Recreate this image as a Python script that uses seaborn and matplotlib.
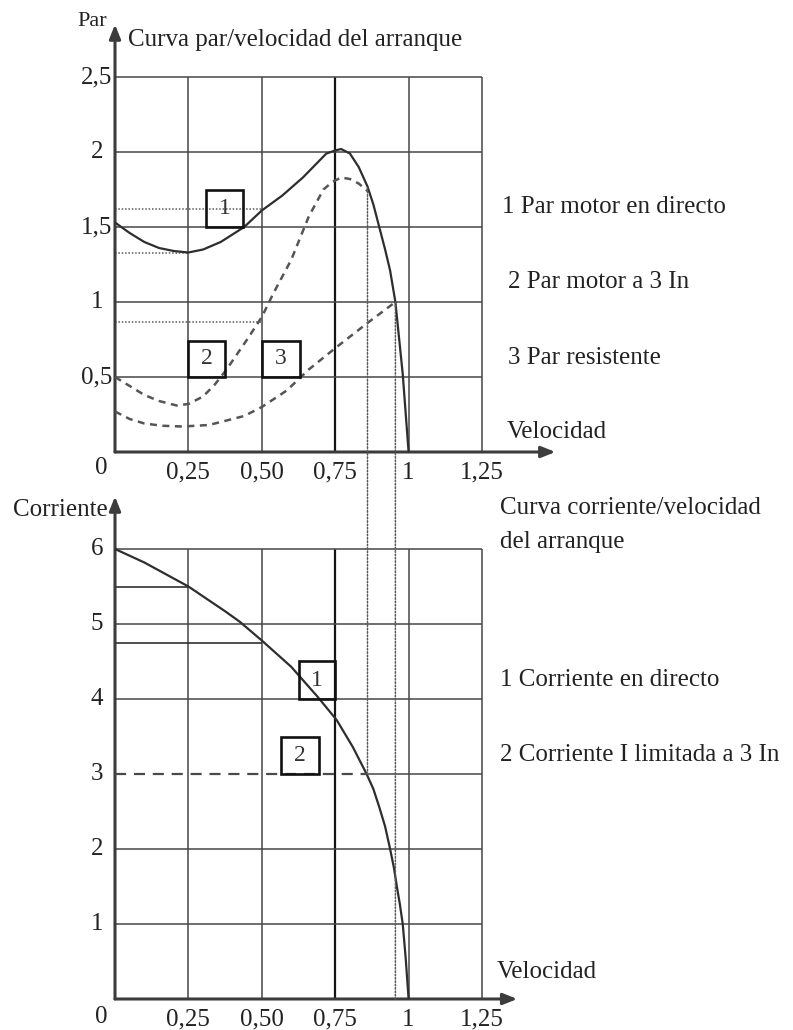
import matplotlib
matplotlib.use("Agg")
import matplotlib.pyplot as plt
from matplotlib.patches import Rectangle, ConnectionPatch
import seaborn as sns

# ---- Par / velocidad (per-unit speed) ----
par_directo_v = [0.0, 0.05, 0.1, 0.15, 0.2, 0.25, 0.3, 0.36, 0.44, 0.5, 0.57, 0.64,
                 0.69, 0.72, 0.75, 0.77, 0.8, 0.83, 0.86, 0.88, 0.9, 0.92, 0.937,
                 0.955, 0.98, 1.0]
par_directo = [1.53, 1.46, 1.4, 1.36, 1.34, 1.33, 1.35, 1.4, 1.5, 1.61, 1.71, 1.83,
               1.93, 1.99, 2.01, 2.02, 1.99, 1.9, 1.77, 1.65, 1.5, 1.35, 1.21,
               1.0, 0.52, 0.0]

par_3in_v = [0.0, 0.05, 0.1, 0.15, 0.21, 0.25, 0.3, 0.34, 0.38, 0.45, 0.5, 0.54,
             0.6, 0.66, 0.71, 0.74, 0.77, 0.8, 0.83, 0.86]
par_3in = [0.5, 0.44, 0.38, 0.34, 0.31, 0.32, 0.37, 0.45, 0.55, 0.75, 0.9, 1.06,
           1.28, 1.57, 1.75, 1.8, 1.83, 1.82, 1.79, 1.74]

par_resist_v = [0.0, 0.05, 0.1, 0.16, 0.23, 0.32, 0.38, 0.44, 0.5, 0.585, 0.66,
                0.755, 0.86, 0.955]
par_resist = [0.27, 0.22, 0.19, 0.175, 0.17, 0.18, 0.21, 0.24, 0.3, 0.41, 0.55,
              0.7, 0.86, 1.0]

# ---- Corriente / velocidad ----
corr_directo_v = [0.0, 0.1, 0.25, 0.375, 0.425, 0.5, 0.6, 0.69, 0.755, 0.81, 0.857,
                  0.88, 0.9, 0.92, 0.937, 0.95, 0.96, 0.97, 0.98, 0.99, 1.0]
corr_directo = [6.0, 5.82, 5.5, 5.17, 5.03, 4.78, 4.43, 4.03, 3.72, 3.36, 3.0,
                2.8, 2.56, 2.3, 2.0, 1.75, 1.5, 1.27, 1.0, 0.55, 0.0]

corr_limit_v = [0.0, 0.857]
corr_limit = [3.0, 3.0]

# ---- Axis ticks ----
vel_ticks = [0.25, 0.5, 0.75, 1.0, 1.25]
vel_labels = ["0,25", "0,50", "0,75", "1", "1,25"]
par_ticks = [0.5, 1.0, 1.5, 2.0, 2.5]
par_labels = ["0,5", "1", "1,5", "2", "2,5"]
corr_ticks = [1, 2, 3, 4, 5, 6]
corr_labels = ["1", "2", "3", "4", "5", "6"]

# ---- Reading guides: level and speed reached ----
par_guides_level = [1.62, 1.33, 0.87]
par_guides_reach = [0.5, 0.25, 0.5]
corr_guides_level = [5.5, 4.75]
corr_guides_reach = [0.25, 0.5]

# ---- Speed drop lines joining both charts ----
link_speed = [0.86, 0.955]
link_par = [1.76, 1.0]
link_corr = [3.0, 0.0]

sns.set_theme(style="white")
plt.rcParams["font.family"] = ["Liberation Serif", "DejaVu Serif"]
plt.rcParams["text.color"] = "#222222"

W, H = 793, 1030
fig = plt.figure(figsize=(W / 100, H / 100), dpi=100)
fig.patch.set_facecolor("white")


def fx(x):
    return x / W


def fy(y):
    return 1 - y / H


X0 = 115          # pixel column of the speed origin
PXU = 293.6       # pixels per unit of speed
ax_top = fig.add_axes([fx(X0), fy(452), 1.5 * PXU / W, 2.85 * 150 / H])
ax_bot = fig.add_axes([fx(X0), fy(999), 1.5 * PXU / W, 6.7 * 75 / H])
ax_top.set_xlim(0, 1.5)
ax_top.set_ylim(0, 2.85)
ax_bot.set_xlim(0, 1.5)
ax_bot.set_ylim(0, 6.7)

GRID = "#474747"
for ax in (ax_top, ax_bot):
    for s in ax.spines.values():
        s.set_visible(False)
    ax.set_facecolor("none")

# grid of the torque chart
for v in vel_ticks:
    bold = v == 0.75
    ax_top.vlines(v, 0, 2.5, color="#151515" if bold else GRID,
                  lw=1.6 if bold else 1.1, zorder=1)
for p in par_ticks:
    ax_top.hlines(p, 0, 1.25, color=GRID, lw=1.1, zorder=1)

# grid of the current chart
for v in vel_ticks:
    bold = v == 0.75
    ax_bot.vlines(v, 0, 6, color="#151515" if bold else GRID,
                  lw=1.6 if bold else 1.1, zorder=1)
for c in corr_ticks:
    start = corr_limit_v[-1] if c == 3 else 0
    ax_bot.hlines(c, start, 1.25, color=GRID, lw=1.1, zorder=1)
ax_bot.hlines(corr_guides_level, 0, corr_guides_reach, color="#303030", lw=1.2, zorder=1)

# dotted reading guides on the torque chart
ax_top.hlines(par_guides_level, 0, par_guides_reach, color="#5a5a5a", lw=1.1,
              linestyles=[(0, (1, 1.2))], zorder=1)

# axes drawn as arrows
arrow_kw = dict(arrowstyle="-|>,head_length=0.7,head_width=0.28", color="#3c3c3c",
                lw=2.2, shrinkA=0, shrinkB=0)
ax_top.annotate("", xy=(1.5, 0), xytext=(0, 0), arrowprops=arrow_kw, annotation_clip=False)
ax_top.annotate("", xy=(0, 2.85), xytext=(0, 0), arrowprops=arrow_kw, annotation_clip=False)
ax_bot.annotate("", xy=(1.37, 0), xytext=(0, 0), arrowprops=arrow_kw, annotation_clip=False)
ax_bot.annotate("", xy=(0, 6.7), xytext=(0, 0), arrowprops=arrow_kw, annotation_clip=False)

# curves
sns.lineplot(x=par_directo_v, y=par_directo, ax=ax_top, color="#2e2e2e", lw=1.6,
             estimator=None, sort=False, zorder=3)
sns.lineplot(x=par_3in_v, y=par_3in, ax=ax_top, color="#555555", lw=1.8,
             linestyle=(0, (2.8, 2.2)), estimator=None, sort=False, zorder=3)
sns.lineplot(x=par_resist_v, y=par_resist, ax=ax_top, color="#555555", lw=1.8,
             linestyle=(0, (2.8, 2.2)), estimator=None, sort=False, zorder=3)
sns.lineplot(x=corr_directo_v, y=corr_directo, ax=ax_bot, color="#2e2e2e", lw=1.6,
             estimator=None, sort=False, zorder=3)
sns.lineplot(x=corr_limit_v, y=corr_limit, ax=ax_bot, color="#4a4a4a", lw=1.6,
             linestyle=(0, (5, 3.5)), estimator=None, sort=False, zorder=3)

# numbered boxes
box_kw = dict(fill=False, ec="#111111", lw=1.9, zorder=4)
ax_top.add_patch(Rectangle((0.31, 1.5), 0.125, 0.25, **box_kw))
ax_top.add_patch(Rectangle((0.25, 0.5), 0.125, 0.24, **box_kw))
ax_top.add_patch(Rectangle((0.5, 0.5), 0.13, 0.24, **box_kw))
ax_bot.add_patch(Rectangle((0.625, 4.0), 0.125, 0.51, **box_kw))
ax_bot.add_patch(Rectangle((0.565, 3.0), 0.13, 0.5, **box_kw))
num_kw = dict(ha="center", va="center", fontsize=17, color="#333333", zorder=5)
ax_top.text(0.3725, 1.625, "1", **num_kw)
ax_top.text(0.3125, 0.62, "2", **num_kw)
ax_top.text(0.565, 0.62, "3", **num_kw)
ax_bot.text(0.6875, 4.25, "1", **num_kw)
ax_bot.text(0.63, 3.25, "2", **num_kw)

# vertical drop lines spanning both charts
for v, p, c in zip(link_speed, link_par, link_corr):
    con = ConnectionPatch(xyA=(v, p), coordsA=ax_top.transData,
                          xyB=(v, c), coordsB=ax_bot.transData,
                          color="#5a5a5a", lw=1.1, linestyle=(0, (1, 1.2)), zorder=2)
    fig.add_artist(con)

# ticks
for ax, yt, yl in ((ax_top, par_ticks, par_labels), (ax_bot, corr_ticks, corr_labels)):
    ax.set_xticks(vel_ticks, vel_labels)
    ax.set_yticks(yt, yl)
    ax.tick_params(axis="both", length=0, labelsize=18, labelcolor="#222222")
    ax.tick_params(axis="y", pad=13)
    ax.tick_params(axis="x", pad=7)
    plt.setp(ax.get_yticklabels(), ha="center", va="center")
    ax.set_xlabel("")
    ax.set_ylabel("")
    ax.grid(False)

# origin labels
fig.text(fx(101), fy(468), "0", ha="center", va="center", fontsize=18)
fig.text(fx(101), fy(1017), "0", ha="center", va="center", fontsize=18)

# axis names and titles
fig.text(fx(107), fy(22), "Par", ha="right", va="center", fontsize=16)
fig.text(fx(128), fy(40), "Curva par/velocidad del arranque", ha="left", va="center", fontsize=18)
fig.text(fx(507), fy(432), "Velocidad", ha="left", va="center", fontsize=18)
fig.text(fx(108), fy(510), "Corriente", ha="right", va="center", fontsize=18)
fig.text(fx(497), fy(972), "Velocidad", ha="left", va="center", fontsize=18)

# series descriptions
fig.text(fx(502), fy(207), "1 Par motor en directo", ha="left", va="center", fontsize=18)
fig.text(fx(508), fy(282), "2 Par motor a 3 In", ha="left", va="center", fontsize=18)
fig.text(fx(508), fy(358), "3 Par resistente", ha="left", va="center", fontsize=18)
fig.text(fx(500), fy(508), "Curva corriente/velocidad", ha="left", va="center", fontsize=18)
fig.text(fx(500), fy(542), "del arranque", ha="left", va="center", fontsize=18)
fig.text(fx(500), fy(680), "1 Corriente en directo", ha="left", va="center", fontsize=18)
fig.text(fx(500), fy(755), "2 Corriente I limitada a 3 In", ha="left", va="center", fontsize=18)

fig.savefig("out.png", dpi=100, facecolor="white")
